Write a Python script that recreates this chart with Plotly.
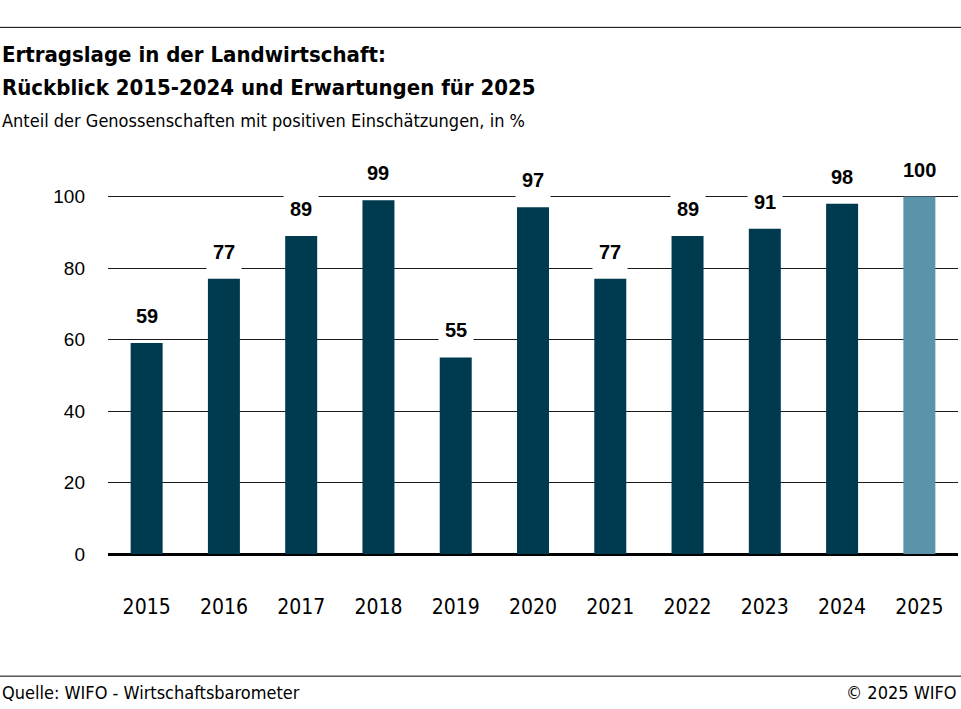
import plotly.graph_objects as go

years = ["2015", "2016", "2017", "2018", "2019", "2020", "2021", "2022", "2023", "2024", "2025"]
values = [59, 77, 89, 99, 55, 97, 77, 89, 91, 98, 100]
bar_colors = ["#003a4f"] * 10 + ["#5b94aa"]
y_ticks = [0, 20, 40, 60, 80, 100]

title1 = "Ertragslage in der Landwirtschaft:"
title2 = "Rückblick 2015-2024 und Erwartungen für 2025"
subtitle = "Anteil der Genossenschaften mit positiven Einschätzungen, in %"
source = "Quelle: WIFO - Wirtschaftsbarometer"
copyright_txt = "© 2025 WIFO"

W, H = 961, 709
Y_MAX = 101
px_per_unit = (554 - 197) / 100.0
L, R, B = 108, 3, 155
T = 554 - px_per_unit * Y_MAX
pw = W - L - R
ph = H - T - B

def px_x(p):
    return (p - L) / pw

def px_y(p):
    return (H - B - p) / ph

cond = "DejaVu Sans Condensed, Liberation Sans Narrow, Arial Narrow, sans-serif"

fig = go.Figure()
fig.add_trace(go.Bar(
    x=years, y=values, marker=dict(color=bar_colors, line=dict(width=0)),
    hoverinfo="x+y", showlegend=False,
))

annotations = []
for i, v in enumerate(values):
    annotations.append(dict(
        x=i, y=v, xref="x", yref="y", text=str(v), showarrow=False,
        yshift=27, bgcolor="white", borderpad=6,
        font=dict(family="Liberation Sans, Arial, sans-serif", size=20, color="black", weight="bold"),
        xanchor="center", yanchor="middle",
    ))

annotations += [
    dict(x=px_x(0), y=px_y(55), xref="paper", yref="paper", text=title1, showarrow=False,
         xanchor="left", yanchor="middle",
         font=dict(family=cond, size=22, color="black", weight="bold")),
    dict(x=px_x(0), y=px_y(88), xref="paper", yref="paper", text=title2, showarrow=False,
         xanchor="left", yanchor="middle",
         font=dict(family=cond, size=22, color="black", weight="bold")),
    dict(x=px_x(0), y=px_y(121), xref="paper", yref="paper", text=subtitle, showarrow=False,
         xanchor="left", yanchor="middle",
         font=dict(family=cond, size=18, color="black")),
    dict(x=px_x(0), y=px_y(692), xref="paper", yref="paper", text=source, showarrow=False,
         xanchor="left", yanchor="middle",
         font=dict(family=cond, size=18, color="black")),
    dict(x=px_x(959), y=px_y(692), xref="paper", yref="paper", text=copyright_txt, showarrow=False,
         xanchor="right", yanchor="middle",
         font=dict(family=cond, size=18, color="black")),
]

shapes = [
    dict(type="line", xref="paper", yref="paper", x0=px_x(0), x1=px_x(961),
         y0=px_y(28), y1=px_y(28), line=dict(color="black", width=1)),
    dict(type="line", xref="paper", yref="paper", x0=px_x(0), x1=px_x(961),
         y0=px_y(676), y1=px_y(676), line=dict(color="black", width=1)),
]

fig.update_layout(
    width=W, height=H,
    margin=dict(l=L, r=R, t=T, b=B, pad=0),
    paper_bgcolor="white", plot_bgcolor="white",
    bargap=0.586,
    annotations=annotations,
    shapes=shapes,
    xaxis=dict(
        type="category", range=[-0.5, len(years) - 0.5], autorange=False,
        showgrid=False, showline=False, zeroline=False,
        ticks="", ticklabelstandoff=38,
        tickfont=dict(family=cond, size=21, color="black"),
    ),
    yaxis=dict(
        range=[0, Y_MAX], autorange=False, tickvals=y_ticks, showgrid=True, gridcolor="#1a1a1a", gridwidth=1,
        zeroline=True, zerolinecolor="black", zerolinewidth=3,
        showline=False, ticks="", ticklabelstandoff=22,
        tickfont=dict(family="Liberation Sans, Arial, sans-serif", size=19, color="black"),
    ),
)

fig.write_html("out.html", config={"displayModeBar": False},
               post_script="document.body.style.margin='0';")
